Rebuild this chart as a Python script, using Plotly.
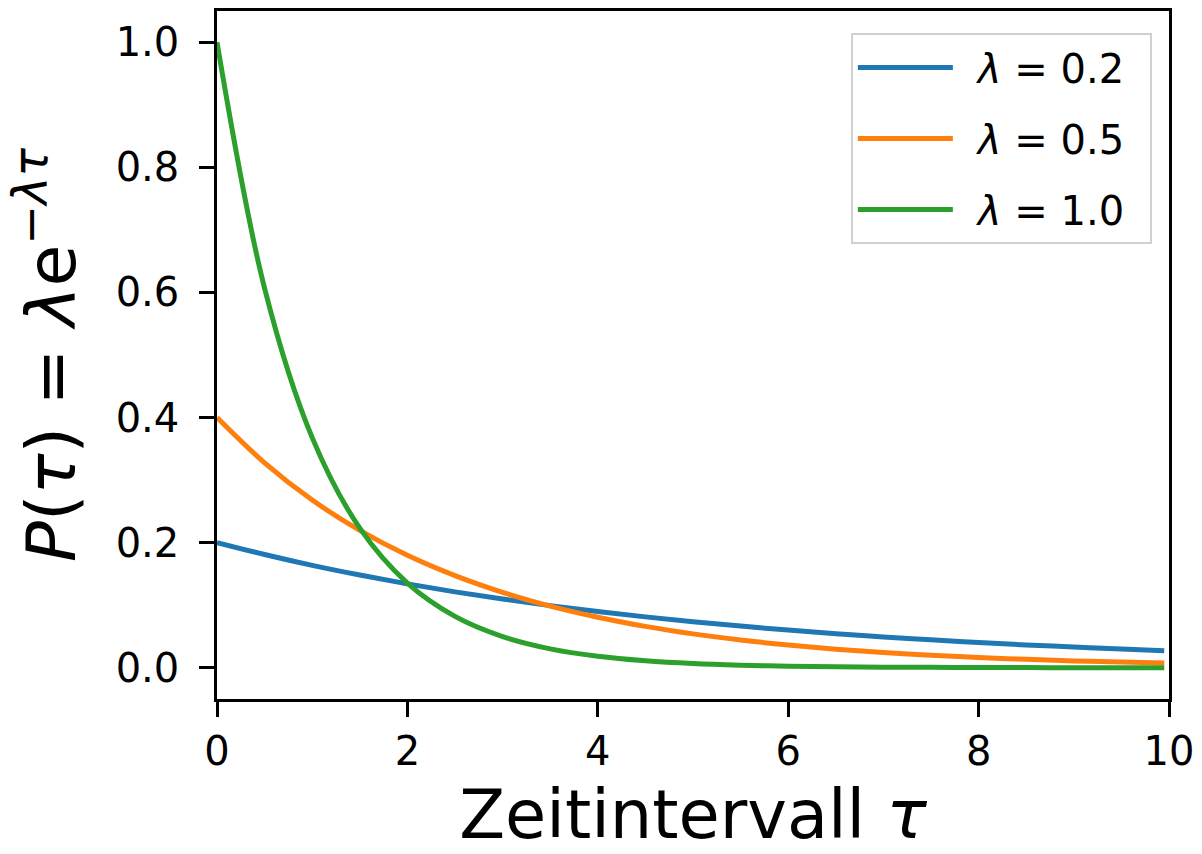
import plotly.graph_objects as go

# Sample points (tau axis)
tau = [0.0, 0.5, 1.0, 1.5, 2.0, 2.5, 3.0, 3.5, 4.0, 4.5, 5.0, 5.5, 6.0,
       6.5, 7.0, 7.5, 8.0, 8.5, 9.0, 9.5, 9.95]

# Values
p_blue = [0.2000, 0.1810, 0.1637, 0.1482, 0.1341, 0.1213, 0.1098, 0.0993, 0.0899, 0.0813,
          0.0736, 0.0666, 0.0602, 0.0545, 0.0493, 0.0446, 0.0404, 0.0365, 0.0331, 0.0299, 0.0273]
p_orange = [0.4000, 0.3275, 0.2681, 0.2195, 0.1797, 0.1472, 0.1205, 0.0986, 0.0808, 0.0661,
            0.0541, 0.0443, 0.0363, 0.0297, 0.0243, 0.0199, 0.0163, 0.0134, 0.0109, 0.0090, 0.0075]
p_green = [1.0000, 0.6065, 0.3679, 0.2231, 0.1353, 0.0821, 0.0498, 0.0302, 0.0183, 0.0111,
           0.0067, 0.0041, 0.0025, 0.0015, 0.0009, 0.0006, 0.0003, 0.0002, 0.0001, 0.00008, 0.00005]

series_names = ["<i>λ</i> = 0.2", "<i>λ</i> = 0.5", "<i>λ</i> = 1.0"]
series_values = [p_blue, p_orange, p_green]
series_colors = ["#1f77b4", "#ff7f0e", "#2ca02c"]

x_ticks = [0, 2, 4, 6, 8, 10]
y_ticks = [0.0, 0.2, 0.4, 0.6, 0.8, 1.0]
y_ticklabels = ["0.0", "0.2", "0.4", "0.6", "0.8", "1.0"]

FONT = "DejaVu Sans"

fig = go.Figure()
for i, (name, vals, col) in enumerate(zip(series_names, series_values, series_colors)):
    fig.add_trace(go.Scatter(
        x=tau, y=vals, mode="lines", name="\u2002" + name + "\u2002",
        line=dict(color=col, width=5, shape="spline", smoothing=1.0),
        legendgroup=f"g{i}",
    ))

axis_common = dict(
    showline=True, linecolor="black", linewidth=2.5, mirror=True,
    ticks="outside", ticklen=15, tickwidth=2.5, tickcolor="black",
    showgrid=False, zeroline=False, automargin=False,
    tickfont=dict(family=FONT, size=40, color="black"),
)

fig.update_layout(
    width=1202, height=854, autosize=False,
    margin=dict(l=217, r=33, t=11, b=155),
    paper_bgcolor="white", plot_bgcolor="white",
    font=dict(family=FONT, color="black"),
    xaxis=dict(
        range=[0, 10], tickvals=x_ticks, ticktext=[str(t) for t in x_ticks],
        ticklabelstandoff=0,
        title=dict(text="Zeitintervall <i>τ</i>", font=dict(family=FONT, size=67), standoff=27),
        **axis_common,
    ),
    yaxis=dict(
        range=[-0.05, 1.05], tickvals=y_ticks, ticktext=y_ticklabels,
        ticklabelstandoff=12,
        title=dict(text="<i>P</i>(<i>τ</i>) = <i>λ</i>e<sup>−<i>λτ</i></sup>",
                   font=dict(family=FONT, size=68), standoff=18),
        **axis_common,
    ),
    showlegend=True,
    legend=dict(
        x=0.982, y=0.968, xanchor="right", yanchor="top",
        bgcolor="white", bordercolor="#d0d0d0", borderwidth=2,
        font=dict(family=FONT, size=40, color="black"),
        traceorder="grouped", tracegroupgap=16, itemwidth=95,
    ),
)

fig.write_html("out.html")
